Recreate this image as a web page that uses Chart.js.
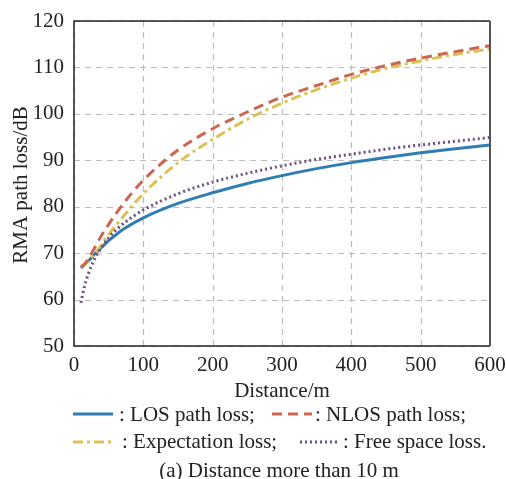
<!DOCTYPE html>
<html>
<head>
<meta charset="utf-8">
<script src="https://cdn.jsdelivr.net/npm/chart.js@4"></script>
<style>
  body { margin: 0; background: #fff; }
  #wrap { width: 506px; height: 479px; }
</style>
</head>
<body>
<div id="wrap"><canvas id="c" width="506" height="479"></canvas></div>
<script>
// distances (m) and read-off path loss values (dB)
var distance = [10, 15, 20, 30, 40, 50, 60, 75, 100, 150, 200, 250, 300, 350, 400, 450, 500, 550, 600];
var losLoss = [66.8, 67.5, 68.2, 69.8, 71.3, 72.7, 73.9, 75.5, 77.6, 80.7, 83.0, 85.0, 86.7, 88.2, 89.5, 90.6, 91.6, 92.5, 93.3];
var nlosLoss = [67.0, 67.6, 68.6, 71.2, 73.9, 76.2, 78.4, 81.4, 85.7, 92.2, 96.8, 100.4, 103.6, 106.1, 108.5, 110.4, 112.0, 113.4, 114.7];
var expectLoss = [67.1, 67.5, 68.2, 69.9, 71.9, 74.0, 75.9, 78.6, 82.8, 89.5, 94.5, 98.8, 102.3, 105.2, 107.7, 109.8, 111.4, 112.8, 114.0];
var freeLoss = [59.3, 62.8, 65.3, 68.8, 71.3, 73.3, 74.9, 76.8, 79.3, 82.8, 85.3, 87.2, 88.8, 90.2, 91.3, 92.4, 93.3, 94.1, 94.9];

var legendLabels = [': LOS path loss;', ': NLOS path loss;', ': Expectation loss;', ': Free space loss.'];
var xTitle = 'Distance/m';
var yTitle = 'RMA path loss/dB';
var caption = '(a) Distance more than 10 m';

var FONT = '"Liberation Serif", "Times New Roman", serif';

function pts(vals) {
  return distance.map(function (d, i) { return { x: d, y: vals[i] }; });
}

var styles = [
  { color: '#2f7db3', dash: [] },
  { color: '#cc6650', dash: [10, 6] },
  { color: '#dcc255', dash: [10, 4, 3, 4] },
  { color: '#6b4f82', dash: [2, 3] }
];
var series = [losLoss, nlosLoss, expectLoss, freeLoss];
var orders = [4, 2, 3, 1];

var datasets = series.map(function (s, i) {
  return {
    label: legendLabels[i],
    data: pts(s),
    borderColor: styles[i].color,
    borderDash: styles[i].dash,
    borderWidth: 3,
    pointRadius: 0,
    fill: false,
    cubicInterpolationMode: 'monotone',
    order: orders[i]
  };
});

// dashed grid under the lines
var dashGrid = {
  id: 'dashGrid',
  beforeDatasetsDraw: function (chart) {
    var ctx = chart.ctx;
    var a = chart.chartArea;
    ctx.save();
    ctx.strokeStyle = '#bdbdbd';
    ctx.lineWidth = 1.2;
    ctx.setLineDash([6, 5]);
    chart.scales.x.ticks.forEach(function (t) {
      var px = Math.round(chart.scales.x.getPixelForValue(t.value)) + 0.5;
      ctx.beginPath();
      ctx.moveTo(px, a.bottom);
      ctx.lineTo(px, a.top);
      ctx.stroke();
    });
    chart.scales.y.ticks.forEach(function (t) {
      var py = Math.round(chart.scales.y.getPixelForValue(t.value)) + 0.5;
      ctx.beginPath();
      ctx.moveTo(a.left, py);
      ctx.lineTo(a.right, py);
      ctx.stroke();
    });
    ctx.restore();
  }
};

// frame, axis titles, legend and caption
var extras = {
  id: 'extras',
  afterDraw: function (chart) {
    var ctx = chart.ctx;
    var a = chart.chartArea;
    ctx.save();
    ctx.strokeStyle = '#222';
    ctx.lineWidth = 1.5;
    ctx.beginPath();
    ctx.moveTo(a.right, a.bottom);
    ctx.lineTo(a.left, a.bottom);
    ctx.lineTo(a.left, a.top);
    ctx.lineTo(a.right, a.top);
    ctx.stroke();
    ctx.strokeStyle = '#555';
    ctx.lineWidth = 2;
    ctx.beginPath();
    ctx.moveTo(a.right, a.top);
    ctx.lineTo(a.right, a.bottom);
    ctx.stroke();

    ctx.fillStyle = '#222';
    ctx.font = '21px ' + FONT;
    ctx.textAlign = 'center';
    ctx.textBaseline = 'alphabetic';
    ctx.fillText(xTitle, 282, 397);
    ctx.fillText(caption, 279, 477);

    ctx.save();
    ctx.translate(27, 185);
    ctx.rotate(-Math.PI / 2);
    ctx.fillText(yTitle, 0, 0);
    ctx.restore();

    var items = [
      { x0: 73, x1: 113, y: 414, tx: 119, base: 421 },
      { x0: 272, x1: 312, y: 414, tx: 315, base: 421 },
      { x0: 73, x1: 113, y: 442, tx: 122, base: 448 },
      { x0: 300, x1: 340, y: 442, tx: 343, base: 448 }
    ];
    ctx.textAlign = 'left';
    items.forEach(function (it, i) {
      ctx.strokeStyle = styles[i].color;
      ctx.lineWidth = 3;
      ctx.setLineDash(styles[i].dash);
      ctx.beginPath();
      ctx.moveTo(it.x0, it.y);
      ctx.lineTo(it.x1, it.y);
      ctx.stroke();
      ctx.setLineDash([]);
      ctx.fillStyle = '#222';
      ctx.fillText(legendLabels[i], it.tx, it.base);
    });
    ctx.restore();
  }
};

new Chart(document.getElementById('c'), {
  type: 'line',
  data: { datasets: datasets },
  options: {
    responsive: false,
    animation: false,
    events: [],
    layout: { padding: { top: 21, right: 16, left: 0, bottom: 0 } },
    plugins: { legend: { display: false }, tooltip: { enabled: false } },
    scales: {
      x: {
        type: 'linear',
        min: 0, max: 600,
        afterFit: function (s) { s.height = 133; s.paddingLeft = 0; s.paddingRight = 0; },
        ticks: { stepSize: 100, color: '#222', padding: 7, maxRotation: 0, font: { family: FONT, size: 21 } },
        grid: { display: false, drawTicks: false, tickLength: 0 },
        border: { display: false }
      },
      y: {
        min: 50, max: 120,
        afterFit: function (s) { s.width = 74; s.paddingTop = 0; s.paddingBottom = 0; },
        ticks: { stepSize: 10, color: '#222', padding: 10, font: { family: FONT, size: 21 } },
        grid: { display: false, drawTicks: false, tickLength: 0 },
        border: { display: false }
      }
    }
  },
  plugins: [dashGrid, extras]
});
</script>
</body>
</html>
